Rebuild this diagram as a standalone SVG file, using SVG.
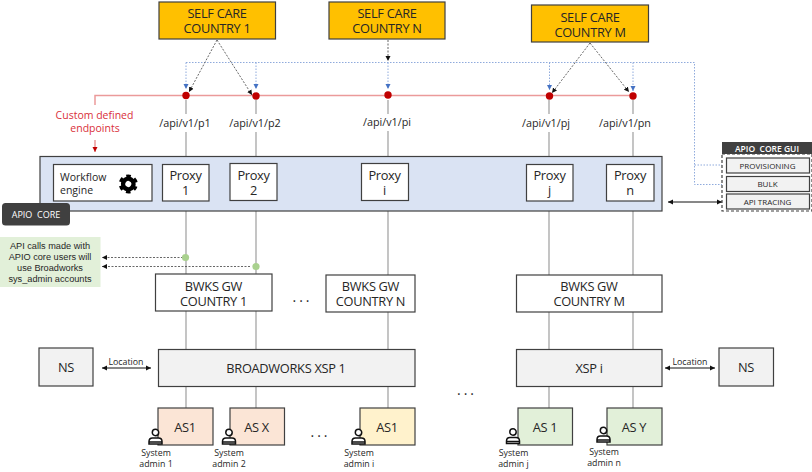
<svg xmlns="http://www.w3.org/2000/svg" width="812" height="472" viewBox="0 0 812 472">
<style>
text{font-family:"Open Sans","Noto Sans","Liberation Sans",sans-serif;text-anchor:middle;fill:#262626;white-space:pre}
.b{stroke:#404040;stroke-width:1.200}
.y{fill:#ffc000}.w{fill:#fff}.g{fill:#f2f2f2}
.t14{font-size:12.800px;letter-spacing:-.3px}.t12{font-size:10.800px}.t9{font-size:8.800px}.gi{font-size:8px}
.wf{font-size:10.500px;text-anchor:start}
.el{font-size:14px;letter-spacing:3px}
.rt{font-size:10.500px;fill:#d9303a}
.nt{font-family:"Liberation Sans",sans-serif;font-size:9.200px}
.wt{fill:#fff;font-size:9px}
.gl{fill:none;stroke:#a6a6a6;stroke-width:1.300}
.red{fill:none;stroke:#eb9a9a;stroke-width:1.500}
.blu{fill:none;stroke:#8faadc;stroke-width:1;stroke-dasharray:1.500 1.500}
.blk{fill:none;stroke:#404040;stroke-width:.8;stroke-dasharray:2 1.500}
.dot{fill:#c00000}.gd{fill:#a9d18e}
.arr{fill:none;stroke:#111;stroke-width:1}
.usr{stroke:#111;stroke-width:1.500;fill:#fff}
</style>
<defs>
<marker id="mb" markerUnits="userSpaceOnUse" markerWidth="6" markerHeight="6" refX="5" refY="3" orient="auto"><path d="M0 0.500L5 3L0 5.500z" fill="#111"/></marker>
<marker id="ms" markerUnits="userSpaceOnUse" markerWidth="6" markerHeight="6" refX="1" refY="3" orient="auto"><path d="M6 0.500L1 3L6 5.500z" fill="#111"/></marker>
<marker id="mbl" markerUnits="userSpaceOnUse" markerWidth="6" markerHeight="6" refX="5" refY="3" orient="auto"><path d="M0 0.500L5 3L0 5.500z" fill="#4472c4"/></marker>
<marker id="mr" markerUnits="userSpaceOnUse" markerWidth="6" markerHeight="6" refX="5" refY="3" orient="auto"><path d="M0 0.500L5 3L0 5.500z" fill="#c00000"/></marker>
<g id="u"><circle class="usr" cx="0" cy="-5" r="3.200"/><path class="usr" d="M-6.500 6.500V4Q-6.500 0.500 -3 0.500H3Q6.500 0.500 6.500 4V6.500ZM-6.500 4.500H6.500"/></g>
</defs>
<g id="connectors">
<path class="gl" d="M186 100V114M186 132V156M186 211V274M186 311V350M186 387V408M256 100V114M256 132V156M256 211V274M256 311V350M256 387V408M388 100V114M388 131V156M388 211V275M388 312V350M388 387V408M549 100V114M549 132V156M549 211V275M549 312V350M549 387V408M633 100V114M633 132V156M633 211V275M633 312V350M633 387V408"/>
<path class="red" d="M95 105V95.500H633"/>
<path class="red" d="M95 140V152" marker-end="url(#mr)"/>
<path class="blu" d="M186 62.500H694.500V184.500H722M694.500 165H722"/>
<path class="blu" d="M186 62.500V89" marker-end="url(#mbl)"/>
<path class="blu" d="M256 62.500V89" marker-end="url(#mbl)"/>
<path class="blu" d="M388 62.500V89" marker-end="url(#mbl)"/>
<path class="blu" d="M549.500 62.500V90" marker-end="url(#mbl)"/>
<path class="blu" d="M633 62.500V91" marker-end="url(#mbl)"/>
<path class="blk" d="M217 40L189 92" marker-end="url(#mb)"/>
<path class="blk" d="M217 40L252 95" marker-end="url(#mb)"/>
<path class="blk" d="M388 40V61" marker-end="url(#mb)"/>
<path class="blk" d="M590 43L552 93" marker-end="url(#mb)"/>
<path class="blk" d="M590 43L629 92" marker-end="url(#mb)"/>
<path class="arr" d="M668 202H722" marker-start="url(#ms)" marker-end="url(#mb)"/>
<path class="arr" d="M102 368H151" marker-start="url(#ms)" marker-end="url(#mb)"/>
<path class="arr" d="M665 368H715" marker-start="url(#ms)" marker-end="url(#mb)"/>
<path class="blk" d="M183 257.500H102" marker-end="url(#mb)" stroke-dasharray="1.500 1.500"/>
<path class="blk" d="M250 266.500H102" marker-end="url(#mb)" stroke-dasharray="1.500 1.500"/>
<circle class="dot" cx="186" cy="95.500" r="3.700"/><circle class="dot" cx="256" cy="96" r="3.700"/><circle class="dot" cx="388" cy="95" r="3.700"/><circle class="dot" cx="549.500" cy="96" r="3.700"/><circle class="dot" cx="633" cy="96" r="3.700"/>
<circle class="gd" cx="185.500" cy="257.500" r="3.600"/><circle class="gd" cx="256" cy="266.500" r="3.600"/>
</g>
<g id="sc1"><rect class="y b" x="159" y="2" width="116.500" height="37"/><text class="t14" x="217" y="17.500">SELF CARE</text><text class="t14" x="217" y="32.500">COUNTRY 1</text></g>
<g id="scn"><rect class="y b" x="329" y="2" width="116" height="37"/><text class="t14" x="387" y="17.500">SELF CARE</text><text class="t14" x="387" y="32.500">COUNTRY N</text></g>
<g id="scm"><rect class="y b" x="531.500" y="5" width="117" height="37"/><text class="t14" x="590" y="21.500">SELF CARE</text><text class="t14" x="590" y="36.500">COUNTRY M</text></g>
<g id="labels">
<text class="t12" x="185" y="127">/api/v1/p1</text><text class="t12" x="255" y="127">/api/v1/p2</text><text class="t12" x="387" y="125.500">/api/v1/pi</text><text class="t12" x="546" y="127">/api/v1/pj</text><text class="t12" x="625" y="127">/api/v1/pn</text>
<text class="rt" x="94.500" y="119">Custom defined</text><text class="rt" x="95" y="131.500">endpoints</text>
<text class="el" x="302.500" y="302">...</text><text class="el" x="320.500" y="437">...</text><text class="el" x="467" y="395">...</text>
</g>
<g id="core"><rect x="40" y="156.500" width="622" height="54.500" fill="#dae3f3" class="b"/></g>
<g id="workflow"><rect class="w b" x="53.500" y="164.500" width="98.500" height="36.500"/><text class="wf" x="60" y="180.500">Workflow</text><text class="wf" x="60" y="194">engine</text>
<g transform="translate(128.300 184) rotate(30)"><circle r="5.200" fill="none" stroke="#000" stroke-width="4.400"/><circle r="8" fill="none" stroke="#000" stroke-width="3" stroke-dasharray="4.400 3.980" stroke-dashoffset="2.200"/></g>
</g>
<g id="p1"><rect class="w b" x="162.500" y="164.500" width="46.500" height="36.500"/><text class="t14" x="185.500" y="180">Proxy</text><text class="t14" x="185.500" y="195">1</text></g>
<g id="p2"><rect class="w b" x="230" y="163.500" width="47" height="37"/><text class="t14" x="253.500" y="180">Proxy</text><text class="t14" x="253.500" y="195">2</text></g>
<g id="pi"><rect class="w b" x="361.500" y="163.500" width="47" height="37"/><text class="t14" x="384.500" y="180">Proxy</text><text class="t14" x="384.500" y="195">i</text></g>
<g id="pj"><rect class="w b" x="526.500" y="164.500" width="46.500" height="36.500"/><text class="t14" x="549.500" y="180">Proxy</text><text class="t14" x="549.500" y="195">j</text></g>
<g id="pn"><rect class="w b" x="606.500" y="164.500" width="47.500" height="36.500"/><text class="t14" x="630" y="180">Proxy</text><text class="t14" x="630" y="195">n</text></g>
<g id="apio"><rect x="2" y="203" width="68" height="22.500" rx="3.500" fill="#404040"/><text class="wt" x="36" y="217.500">APIO  CORE</text></g>
<g id="gui"><rect x="722" y="154" width="90" height="57" fill="#fff" stroke="#404040" stroke-width="1.200" stroke-dasharray="3 2"/><rect x="722" y="142" width="90" height="12" fill="#404040"/><text class="wt" x="767" y="151.500" style="font-size:8.500px;font-weight:600">APIO  CORE GUI</text>
<rect class="g b" x="726.500" y="158" width="83" height="15"/><text class="gi" x="767.500" y="168.500">PROVISIONING</text>
<rect class="g b" x="726.500" y="176.500" width="83" height="15"/><text class="gi" x="767.500" y="187">BULK</text>
<rect class="g b" x="726.500" y="194" width="83" height="15"/><text class="gi" x="767.500" y="204.500">API TRACING</text></g>
<g id="note"><rect x="0" y="237" width="100.500" height="50" fill="#e2f0d9"/><text class="nt" x="50" y="249">API calls made with</text><text class="nt" x="50" y="259.500">APIO core users will</text><text class="nt" x="50" y="270.500">use Broadworks</text><text class="nt" x="50" y="281.500">sys_admin accounts</text></g>
<g id="gw1"><rect class="w b" x="155.500" y="274" width="116.500" height="37"/><text class="t14" x="213.500" y="290.500">BWKS GW</text><text class="t14" x="213.500" y="305.500">COUNTRY 1</text></g>
<g id="gwn"><rect class="w b" x="326" y="275" width="89" height="37"/><text class="t14" x="370.500" y="291">BWKS GW</text><text class="t14" x="370.500" y="306">COUNTRY N</text></g>
<g id="gwm"><rect class="w b" x="516.500" y="275" width="145.500" height="37"/><text class="t14" x="589" y="291">BWKS GW</text><text class="t14" x="589" y="306">COUNTRY M</text></g>
<g id="ns1"><rect class="g b" x="39" y="348" width="54" height="38"/><text class="t14" x="66" y="372">NS</text></g>
<g id="xsp1"><rect class="g b" x="158.500" y="349.500" width="256.500" height="37"/><text class="t14" x="286" y="372.500">BROADWORKS XSP 1</text></g>
<g id="xspi"><rect class="g b" x="516.500" y="349.500" width="145.500" height="37"/><text class="t14" x="589" y="372.500">XSP i</text></g>
<g id="ns2"><rect class="g b" x="719" y="348" width="54.500" height="38"/><text class="t14" x="746" y="372">NS</text></g>
<text class="t9" x="126" y="365">Location</text><text class="t9" x="690" y="365">Location</text>
<g id="as1"><rect x="158" y="408" width="55" height="37" fill="#fbe5d6" class="b"/><text class="t14" x="185" y="431.500">AS1</text></g>
<g id="asx"><rect x="230" y="408" width="54.500" height="37" fill="#fbe5d6" class="b"/><text class="t14" x="256.500" y="431.500">AS X</text></g>
<g id="asi"><rect x="360" y="408" width="55" height="37" fill="#fff2cc" class="b"/><text class="t14" x="387" y="431.500">AS1</text></g>
<g id="asj"><rect x="518" y="408" width="54.500" height="37" fill="#e2f0d9" class="b"/><text class="t14" x="545" y="431.500">AS 1</text></g>
<g id="asy"><rect x="607" y="408" width="55" height="37" fill="#e2f0d9" class="b"/><text class="t14" x="634" y="431.500">AS Y</text></g>
<g id="admin1"><use href="#u" x="155.500" y="437.500"/><text class="t9" x="156" y="456">System</text><text class="t9" x="156" y="467">admin 1</text></g>
<g id="admin2"><use href="#u" x="229" y="437.500"/><text class="t9" x="229" y="456">System</text><text class="t9" x="229" y="467">admin 2</text></g>
<g id="admini"><use href="#u" x="358.500" y="437.500"/><text class="t9" x="359" y="455.500">System</text><text class="t9" x="359" y="466.500">admin i</text></g>
<g id="adminj"><use href="#u" x="513" y="437"/><text class="t9" x="513.500" y="455.500">System</text><text class="t9" x="513.500" y="466.500">admin j</text></g>
<g id="adminn"><use href="#u" x="603.500" y="435.500"/><text class="t9" x="604" y="454.500">System</text><text class="t9" x="604" y="465.500">admin n</text></g>
</svg>
